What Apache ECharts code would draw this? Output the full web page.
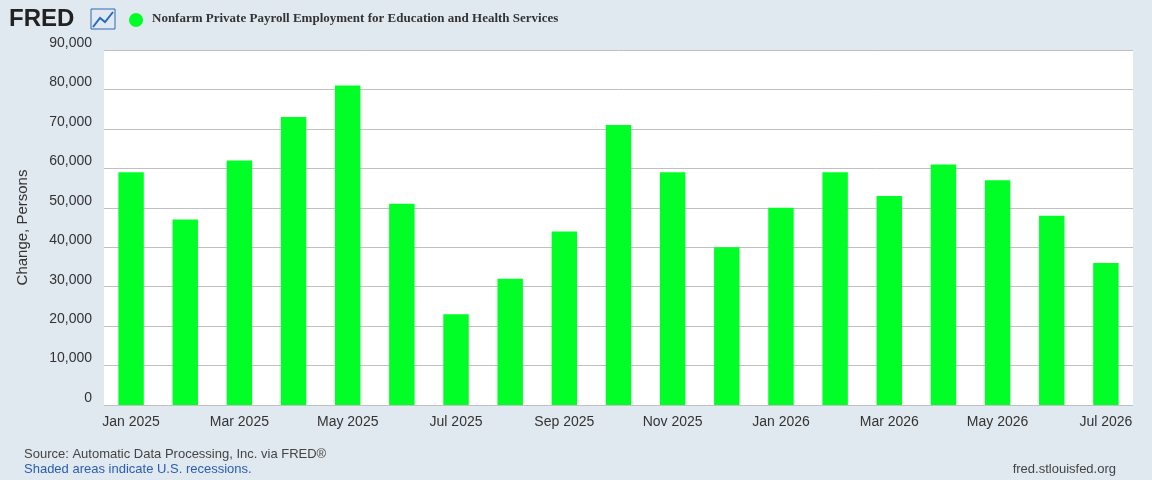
<!DOCTYPE html>
<html>
<head>
<meta charset="utf-8">
<script src="https://cdn.jsdelivr.net/npm/echarts@6/dist/echarts.min.js"></script>
<style>
html,body{margin:0;padding:0;background:#e1e9f0;}
#chart{width:1152px;height:480px;}
</style>
</head>
<body>
<div id="chart"></div>
<script>
var months = ['Jan 2025','Feb 2025','Mar 2025','Apr 2025','May 2025','Jun 2025','Jul 2025','Aug 2025','Sep 2025','Oct 2025','Nov 2025','Dec 2025',
	'Jan 2026','Feb 2026','Mar 2026','Apr 2026','May 2026','Jun 2026','Jul 2026'];
var values = [59000,47000,62000,73000,81000,51000,23000,32000,44000,71000,59000,40000,
	50000,59000,53000,61000,57000,48000,36000];
var seriesName = 'Nonfarm Private Payroll Employment for Education and Health Services';

var myChart = echarts.init(document.getElementById('chart'));
var option = {
	backgroundColor: '#e1e9f0',
	animation: false,
	textStyle: { fontFamily: 'Liberation Sans, Arial' },
	graphic: [
		{ type: 'text', left: 9, top: 7, style: { text: 'FRED', font: 'bold 24px Liberation Sans', fill: '#222' } },
		{ type: 'polyline', shape: { points: [[93,27],[100,18],[105,22],[113,12]] }, style: { stroke: '#2a6ab7', lineWidth: 2, fill: null } },
		{ type: 'rect', shape: { x: 91, y: 9, width: 24, height: 20 }, style: { stroke: '#2a6ab7', lineWidth: 1, fill: null } },
		{ type: 'circle', shape: { cx: 136, cy: 20, r: 7 }, style: { fill: '#00ff26' } },
		{ type: 'text', left: 152, top: 12, style: { text: seriesName, font: 'bold 13px Liberation Serif', fill: '#333' } },
		{ type: 'text', left: 24, top: 448, style: { text: 'Source: Automatic Data Processing, Inc. via FRED®', font: '13px Liberation Sans', fill: '#444' } },
		{ type: 'text', left: 24, top: 463, style: { text: 'Shaded areas indicate U.S. recessions.', font: '13px Liberation Sans', fill: '#2a5db0' } },
		{ type: 'text', right: 36, top: 463, style: { text: 'fred.stlouisfed.org', font: '13px Liberation Sans', fill: '#444' } }
	],
	grid: { left: 104, right: 19, top: 50, bottom: 75, backgroundColor: '#fff', show: true, borderWidth: 0 },
	xAxis: {
		type: 'category',
		data: months,
		axisLine: { show: false },
		axisTick: { show: false },
		axisLabel: { interval: 1, color: '#333', fontSize: 14, margin: 10 }
	},
	yAxis: {
		type: 'value',
		min: 0, max: 90000, interval: 10000,
		name: 'Change, Persons',
		nameLocation: 'middle',
		nameGap: 74,
		nameTextStyle: { color: '#333', fontSize: 15 },
		axisLabel: {
			color: '#333', fontSize: 14, margin: 12,
			verticalAlign: 'bottom',
			formatter: function (v) { return v.toLocaleString('en-US'); }
		},
		splitLine: { lineStyle: { color: '#c0c0c0', width: 1 } }
	},
	series: [{
		type: 'bar',
		name: seriesName,
		data: values,
		barCategoryGap: '53%',
		itemStyle: { color: '#00ff26' }
	}]
};
myChart.setOption(option);
</script>
</body>
</html>
